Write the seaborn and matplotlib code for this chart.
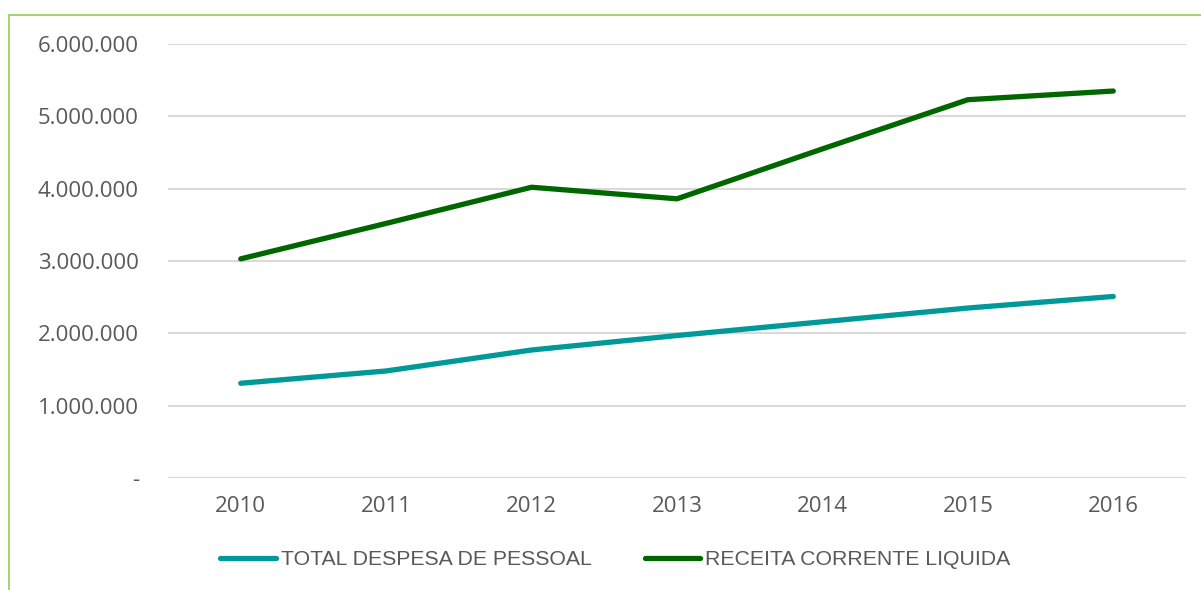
import pandas as pd
import seaborn as sns
import matplotlib.pyplot as plt
from matplotlib.lines import Line2D
from matplotlib.ticker import FuncFormatter, MultipleLocator
from matplotlib import font_manager

# -------------------- DADOS --------------------
anos = ["2010", "2011", "2012", "2013", "2014", "2015", "2016"]
despesa_pessoal = [1310000, 1480000, 1770000, 1970000, 2160000, 2350000, 2510000]
receita_liquida = [3030000, 3520000, 4020000, 3860000, 4550000, 5230000, 5350000]
series = ["TOTAL DESPESA DE PESSOAL", "RECEITA CORRENTE LIQUIDA"]
cores = ["#009999", "#006600"]

df = pd.DataFrame({
    "Ano": anos * 2,
    "Valor": despesa_pessoal + receita_liquida,
    "Serie": [series[0]] * len(anos) + [series[1]] * len(anos),
})

# fonte estreita para a legenda, se existir
try:
    font_manager.findfont("Liberation Sans Narrow", fallback_to_default=False)
    fonte_legenda = "Liberation Sans Narrow"
    tam_legenda = 16.5
except Exception:
    fonte_legenda = "Liberation Sans"
    tam_legenda = 15.3

sns.set_theme(style="white")
plt.rcParams["font.family"] = ["Open Sans", "DejaVu Sans"]

fig = plt.figure(figsize=(12.01, 5.9), dpi=100)
ax = fig.add_axes([0.1399, 0.1898, 0.8476, 0.7356])

sns.lineplot(data=df, x="Ano", y="Valor", hue="Serie", palette=cores,
             linewidth=3.8, sort=False, ax=ax, legend=True)
for ln in ax.get_lines():
    ln.set_solid_capstyle("round")

ax.set_xlim(-0.5, 6.5)
ax.set_ylim(0, 6000000)
ax.yaxis.set_major_locator(MultipleLocator(1000000))


def fmt(v, pos):
    if v == 0:
        return "-"
    return f"{int(v):,}".replace(",", ".")


ax.yaxis.set_major_formatter(FuncFormatter(fmt))
ax.grid(axis="y", color="#d9d9d9", linewidth=1.5)
ax.grid(axis="x", visible=False)
ax.set_axisbelow(True)
for s in ax.spines.values():
    s.set_visible(False)
ax.set_xlabel("")
ax.set_ylabel("")
ax.tick_params(axis="y", length=0, pad=21, labelsize=16, labelcolor="#595959")
ax.tick_params(axis="x", length=0, pad=13, labelsize=16, labelcolor="#595959")

sns.move_legend(ax, "center", bbox_to_anchor=(0.5125, 0.051),
                bbox_transform=fig.transFigure, ncol=2, frameon=False,
                title=None, handlelength=2.6, handletextpad=0.25,
                columnspacing=2.5,
                prop={"family": fonte_legenda, "size": tam_legenda})
leg = ax.get_legend()
for h in leg.legend_handles:
    h.set_linewidth(3.8)
    h.set_solid_capstyle("round")
for t in leg.get_texts():
    t.set_color("#595959")

# borda verde do quadro (topo e esquerda)
fig.add_artist(Line2D([0.0079, 1.0], [0.9746, 0.9746], transform=fig.transFigure,
                      color="#92d050", linewidth=1.2))
fig.add_artist(Line2D([0.0079, 0.0079], [0.0, 0.9746], transform=fig.transFigure,
                      color="#92d050", linewidth=1.2))

fig.savefig("out.png", dpi=100)
plt.close(fig)
